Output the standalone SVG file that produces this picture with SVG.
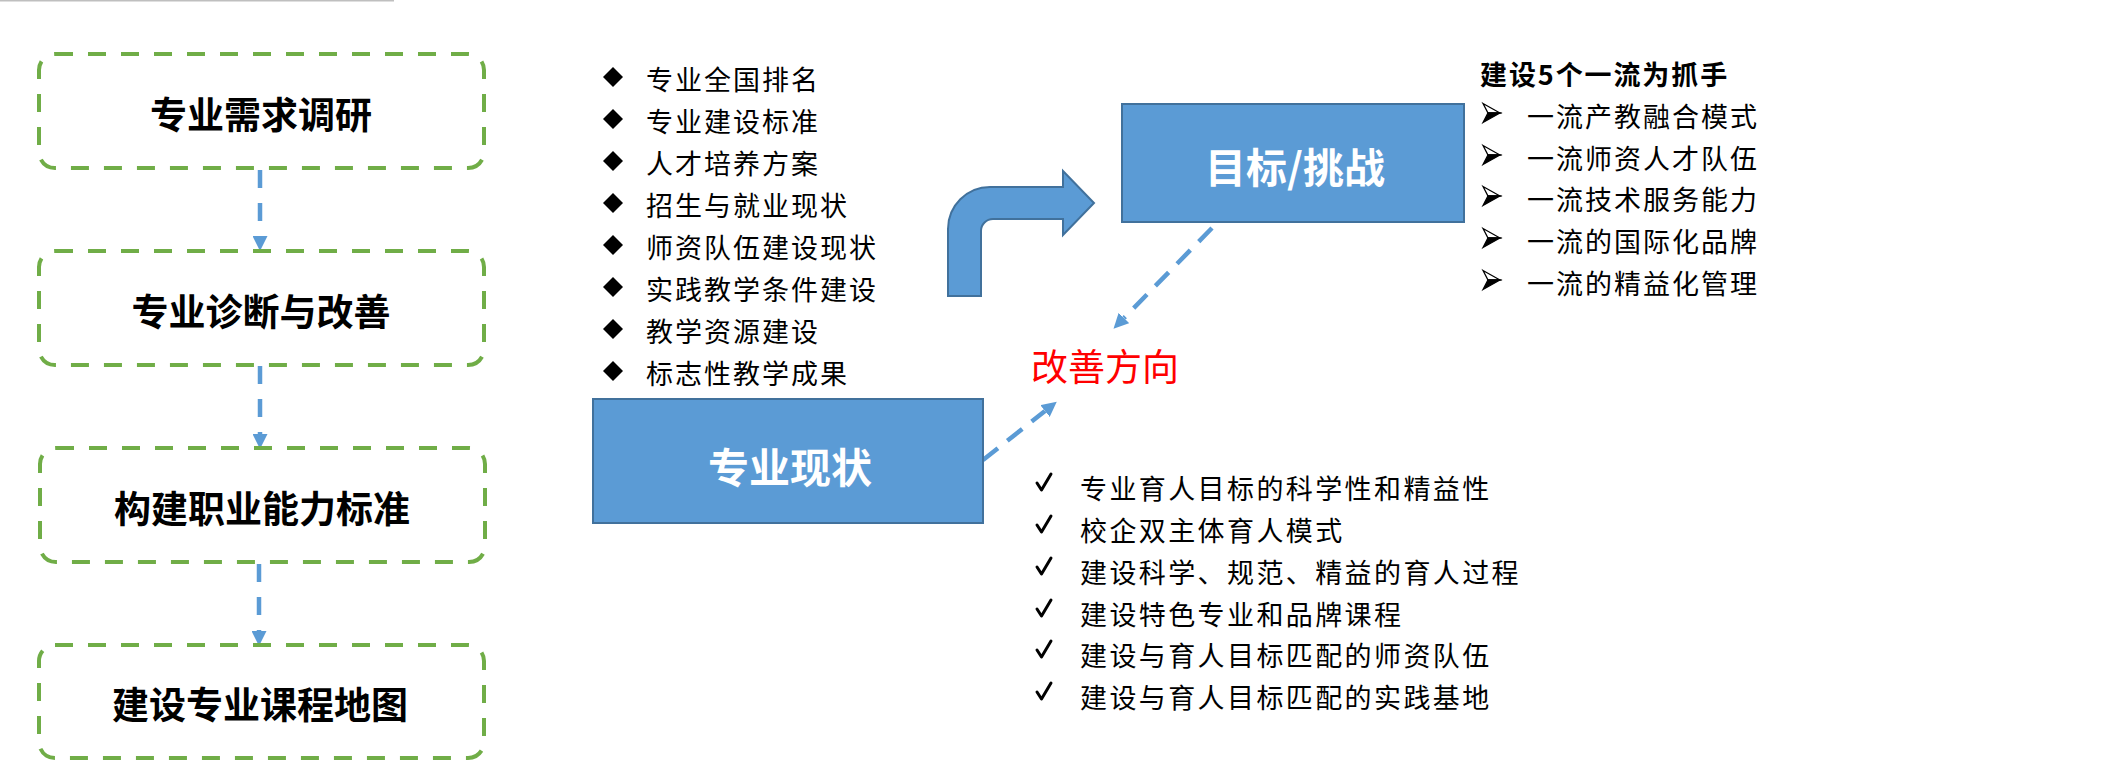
<svg xmlns="http://www.w3.org/2000/svg" width="2128" height="760" viewBox="0 0 2128 760">
<defs>
<style>
.step{fill:#FFFFFF;stroke:#70AD47;stroke-width:4;stroke-dasharray:18 15}
.steptxt{font-family:"Noto Sans CJK SC","Liberation Sans",sans-serif;font-weight:bold;font-size:37px;fill:#000;text-anchor:middle;dominant-baseline:central}
.blue{fill:#5B9BD5;stroke:#41719C;stroke-width:2}
.bluetxt{font-family:"Noto Sans CJK SC","Liberation Sans",sans-serif;font-weight:bold;font-size:41px;fill:#FFFFFF;text-anchor:middle;dominant-baseline:central}
.conn{fill:none;stroke:#5B9BD5;stroke-width:4.5;stroke-dasharray:18 15}
.diag{fill:none;stroke:#5B9BD5;stroke-width:4.5;stroke-dasharray:19 12}
.list{font-family:"Noto Sans CJK SC","Liberation Sans",sans-serif;font-size:27px;fill:#000;dominant-baseline:central;letter-spacing:2px}
.rlist{font-family:"Noto Sans CJK SC","Liberation Sans",sans-serif;font-size:27px;fill:#000;dominant-baseline:central;letter-spacing:2px}
.title{font-family:"Noto Sans CJK SC","Liberation Sans",sans-serif;font-size:27px;font-weight:bold;fill:#000;dominant-baseline:central;letter-spacing:1.9px}
.clist{font-family:"Noto Sans CJK SC","Liberation Sans",sans-serif;font-size:27px;fill:#000;dominant-baseline:central;letter-spacing:2.4px}
.red{font-family:"Noto Sans CJK SC","Liberation Serif",sans-serif;font-size:37px;fill:#FF0000;text-anchor:middle;dominant-baseline:central}
</style>
<marker id="ah" markerUnits="userSpaceOnUse" markerWidth="15" markerHeight="15" viewBox="0 0 14 14" refX="0" refY="7" orient="auto">
<path d="M0,0 L14,7 L0,14 Z" fill="#5B9BD5"/>
</marker>
<path id="dia" d="M0,-10 L10,0 L0,10 L-10,0 Z" fill="#000"/>
<g id="arr">
<path d="M0,-9.5 L17,0 L5,0 Z" fill="#FFF" stroke="#000" stroke-width="1.3" stroke-linejoin="miter"/>
<path d="M0,9.5 L17,0 L5,0 Z" fill="#000" stroke="#000" stroke-width="1.3"/>
</g>
<path id="chk" d="M-7,0 L-2.5,7 L7,-9" fill="none" stroke="#000" stroke-width="3" stroke-linecap="round" stroke-linejoin="round"/>
</defs>
<rect width="2128" height="760" fill="#FFFFFF"/>
<line x1="0" y1="0.8" x2="394" y2="0.8" stroke="#BFBFBF" stroke-width="1.6"/>

<g id="connectors">
<line class="conn" x1="260" y1="170" x2="260" y2="236" marker-end="url(#ah)"/>
<line class="conn" x1="260" y1="366" x2="260" y2="434" marker-end="url(#ah)"/>
<line class="conn" x1="259" y1="564" x2="259" y2="631" marker-end="url(#ah)"/>
<line class="diag" x1="1212" y1="228" x2="1124" y2="318" marker-end="url(#ah)"/>
<line class="diag" x1="983" y1="460" x2="1045" y2="411" marker-end="url(#ah)"/>
</g>

<g id="step1"><rect class="step" x="39" y="54" width="445" height="114" rx="16"/><text class="steptxt" x="261" y="113">专业需求调研</text></g>
<g id="step2"><rect class="step" x="39" y="251" width="445" height="114" rx="16"/><text class="steptxt" x="261" y="310">专业诊断与改善</text></g>
<g id="step3"><rect class="step" x="40" y="448" width="445" height="114" rx="16"/><text class="steptxt" x="262" y="507">构建职业能力标准</text></g>
<g id="step4"><rect class="step" x="39" y="645" width="445" height="113" rx="16"/><text class="steptxt" x="260" y="703">建设专业课程地图</text></g>

<g id="status-list">
<use href="#dia" x="613" y="77"/><text class="list" x="646" y="78">专业全国排名</text>
<use href="#dia" x="613" y="119"/><text class="list" x="646" y="120">专业建设标准</text>
<use href="#dia" x="613" y="161"/><text class="list" x="646" y="162">人才培养方案</text>
<use href="#dia" x="613" y="203"/><text class="list" x="646" y="204">招生与就业现状</text>
<use href="#dia" x="613" y="245"/><text class="list" x="646" y="246">师资队伍建设现状</text>
<use href="#dia" x="613" y="287"/><text class="list" x="646" y="288">实践教学条件建设</text>
<use href="#dia" x="613" y="329"/><text class="list" x="646" y="330">教学资源建设</text>
<use href="#dia" x="613" y="371"/><text class="list" x="646" y="372">标志性教学成果</text>
</g>

<g id="status"><rect class="blue" x="593" y="399" width="390" height="124"/><text class="bluetxt" x="790" y="465">专业现状</text></g>

<g id="bent-arrow"><path class="blue" d="M948,296 L948,229 A42,42 0 0 1 990,187 L1063,187 L1063,171 L1094,203 L1063,235 L1063,219 L993,219 A12,12 0 0 0 981,231 L981,296 Z"/></g>

<g id="goal"><rect class="blue" x="1122" y="104" width="342" height="118"/><text class="bluetxt" x="1295" y="165">目标/挑战</text></g>

<g id="improve"><text class="red" x="1105" y="365">改善方向</text></g>

<g id="goal-list">
<text class="title" x="1480" y="73">建设5个一流为抓手</text>
<use href="#arr" x="1483" y="113"/><text class="rlist" x="1527" y="115">一流产教融合模式</text>
<use href="#arr" x="1483" y="155"/><text class="rlist" x="1527" y="157">一流师资人才队伍</text>
<use href="#arr" x="1483" y="196"/><text class="rlist" x="1527" y="198">一流技术服务能力</text>
<use href="#arr" x="1483" y="238"/><text class="rlist" x="1527" y="240">一流的国际化品牌</text>
<use href="#arr" x="1483" y="280"/><text class="rlist" x="1527" y="282">一流的精益化管理</text>
</g>

<g id="improve-list">
<use href="#chk" x="1044" y="483"/><text class="clist" x="1080" y="487">专业育人目标的科学性和精益性</text>
<use href="#chk" x="1044" y="525"/><text class="clist" x="1080" y="529">校企双主体育人模式</text>
<use href="#chk" x="1044" y="567"/><text class="clist" x="1080" y="571">建设科学、规范、精益的育人过程</text>
<use href="#chk" x="1044" y="609"/><text class="clist" x="1080" y="613">建设特色专业和品牌课程</text>
<use href="#chk" x="1044" y="650"/><text class="clist" x="1080" y="654">建设与育人目标匹配的师资队伍</text>
<use href="#chk" x="1044" y="692"/><text class="clist" x="1080" y="696">建设与育人目标匹配的实践基地</text>
</g>
</svg>
